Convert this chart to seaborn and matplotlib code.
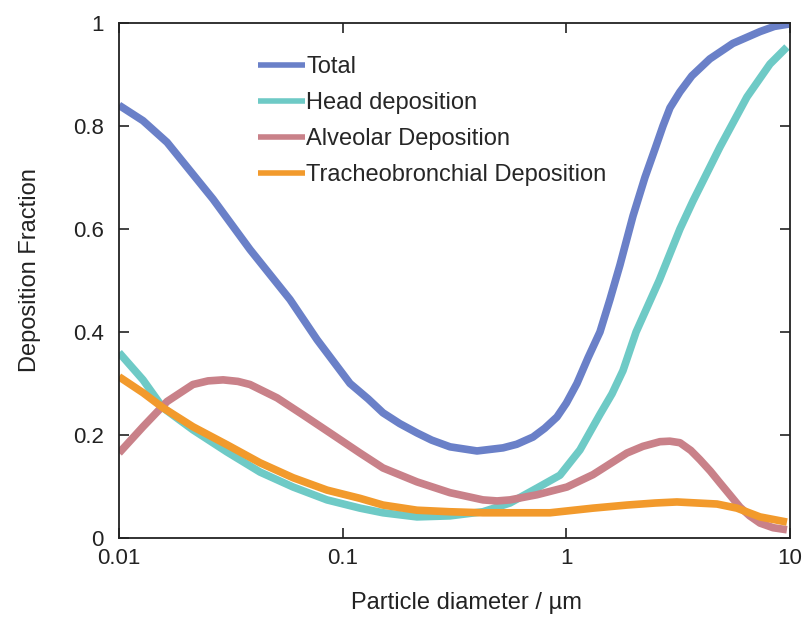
import pandas as pd
import matplotlib.pyplot as plt
import seaborn as sns

# values (x = particle diameter in um)
total_x = [0.01, 0.0128, 0.0164, 0.0263, 0.0385, 0.0581, 0.0768, 0.1078, 0.13, 0.1514, 0.18, 0.2148, 0.25,
           0.3018, 0.3985, 0.5208, 0.6, 0.7092, 0.8, 0.9078, 1.0, 1.115, 1.25, 1.413, 1.566, 1.736, 1.985,
           2.245, 2.489, 2.704, 2.905, 3.219, 3.638, 4.379, 5.549, 7.34, 8.5, 10]
total_y = [0.84, 0.81, 0.768, 0.658, 0.56, 0.463, 0.385, 0.30, 0.27, 0.243, 0.222, 0.204, 0.19,
           0.177, 0.169, 0.175, 0.182, 0.196, 0.213, 0.235, 0.262, 0.30, 0.35, 0.40, 0.463, 0.53, 0.625,
           0.70, 0.755, 0.80, 0.835, 0.866, 0.897, 0.93, 0.96, 0.983, 0.993, 0.998]

head_x = [0.01, 0.0128, 0.0157, 0.0214, 0.0304, 0.0427, 0.060, 0.0851, 0.1195, 0.1514, 0.2148, 0.3018, 0.4238,
          0.5596, 0.739, 0.9363, 1.15, 1.413, 1.6, 1.791, 2.05, 2.6, 3.22, 3.68, 4.86, 6.416, 8.131, 9.685]
head_y = [0.36, 0.307, 0.253, 0.21, 0.167, 0.128, 0.099, 0.074, 0.058, 0.049, 0.041, 0.043, 0.051,
          0.068, 0.097, 0.122, 0.171, 0.24, 0.28, 0.325, 0.40, 0.50, 0.60, 0.654, 0.759, 0.856, 0.92, 0.953]

alv_x = [0.01, 0.0128, 0.0164, 0.0214, 0.025, 0.0292, 0.034, 0.0385, 0.0509, 0.0665, 0.0878, 0.1195, 0.1514,
         0.2148, 0.3018, 0.4238, 0.49, 0.5596, 0.739, 1.006, 1.315, 1.866, 2.2, 2.62, 2.9, 3.219, 3.6, 3.956,
         4.4, 4.86, 5.4, 5.97, 6.6, 7.337, 8.4, 9.685]
alv_y = [0.165, 0.216, 0.265, 0.298, 0.305, 0.307, 0.304, 0.298, 0.272, 0.239, 0.204, 0.165, 0.136,
         0.109, 0.088, 0.074, 0.072, 0.074, 0.084, 0.099, 0.123, 0.165, 0.178, 0.187, 0.188, 0.185, 0.17, 0.152,
         0.13, 0.107, 0.083, 0.06, 0.043, 0.029, 0.02, 0.016]

tb_x = [0.01, 0.0128, 0.0157, 0.0214, 0.0304, 0.0427, 0.060, 0.0851, 0.1195, 0.1514, 0.2148, 0.3018, 0.4238,
        0.6014, 0.845, 1.315, 1.866, 2.5, 3.121, 4.713, 5.788, 7.337, 9.685]
tb_y = [0.313, 0.282, 0.253, 0.216, 0.181, 0.146, 0.117, 0.093, 0.077, 0.064, 0.054, 0.051, 0.049,
        0.049, 0.049, 0.058, 0.064, 0.068, 0.07, 0.066, 0.058, 0.041, 0.031]

labels = ["Total", "Head deposition", "Alveolar Deposition", "Tracheobronchial Deposition"]
colors = ["#6a80c8", "#6ecac6", "#c98189", "#f29a2c"]

frames = []
for lab, xs, ys in zip(labels, [total_x, head_x, alv_x, tb_x], [total_y, head_y, alv_y, tb_y]):
    frames.append(pd.DataFrame({"d": xs, "f": ys, "series": lab}))
df = pd.concat(frames, ignore_index=True)

sns.set_style("ticks")
plt.rcParams["font.family"] = ["Liberation Sans", "DejaVu Sans"]

fig = plt.figure(figsize=(8.07, 6.17), dpi=100)
ax = fig.add_axes([0.1475, 0.128, 0.8315, 0.835])

sns.lineplot(data=df, x="d", y="f", hue="series", hue_order=labels,
             palette=colors, linewidth=5.5, sort=False, ax=ax)
for ln in ax.get_lines():
    ln.set_solid_joinstyle("round")
    ln.set_solid_capstyle("butt")

ax.set_xscale("log")
ax.set_xlim(0.01, 10)
ax.set_ylim(0, 1)
ax.set_xticks([0.01, 0.1, 1, 10])
ax.set_xticklabels(["0.01", "0.1", "1", "10"])
ax.set_yticks([0, 0.2, 0.4, 0.6, 0.8, 1])
ax.set_yticklabels(["0", "0.2", "0.4", "0.6", "0.8", "1"])
ax.minorticks_off()
ax.tick_params(direction="in", length=7, width=1.2, top=True, right=True,
               labelsize=16, colors="#222222")
ax.tick_params(axis="x", pad=7)
ax.tick_params(axis="y", pad=11)
for s in ax.spines.values():
    s.set_linewidth(1.3)
    s.set_color("#222222")

ax.set_xlabel("Particle diameter / µm", fontsize=17, color="#222222")
ax.set_ylabel("Deposition Fraction", fontsize=17, color="#222222")
ax.xaxis.set_label_coords(0.517, -0.105)
ax.yaxis.set_label_coords(-0.116, 0.521)

leg = ax.legend(loc="upper left", bbox_to_anchor=(0.207, 0.936), frameon=False,
                fontsize=17, handlelength=2.0, handletextpad=0.05, labelspacing=0.6,
                borderpad=0, borderaxespad=0)
for line in leg.get_lines():
    line.set_linewidth(4)

fig.savefig("out.png", dpi=100)
